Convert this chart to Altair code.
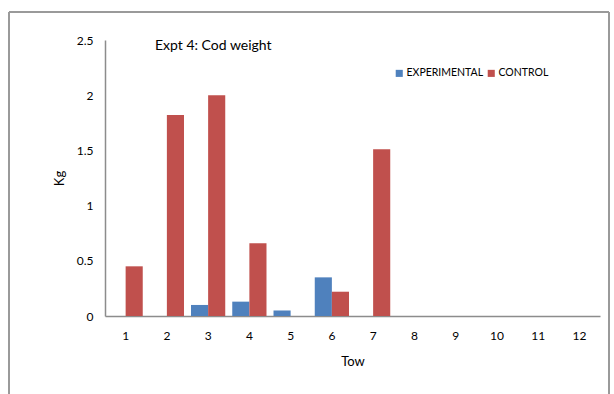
import altair as alt
import pandas as pd

tows = [1, 2, 3, 4, 5, 6, 7, 8, 9, 10, 11, 12]
experimental = [0, 0, 0.10, 0.13, 0.05, 0.35, 0, 0, 0, 0, 0, 0]
control = [0.45, 1.82, 2.0, 0.66, 0, 0.22, 1.51, 0, 0, 0, 0, 0]
series = ["EXPERIMENTAL", "CONTROL"]
colors = ["#4F81BD", "#C0504D"]
y_ticks = [0, 0.5, 1, 1.5, 2, 2.5]
chart_title = ["Expt 4: Cod weight"]

rows = []
for i, t in enumerate(tows):
    rows.append({"Tow": t, "Series": series[0], "Kg": experimental[i]})
    rows.append({"Tow": t, "Series": series[1], "Kg": control[i]})
df = pd.DataFrame(rows)
one = pd.DataFrame({"label": chart_title})

FONT = "Lato"

bars = alt.Chart(df).mark_bar().encode(
    x=alt.X("Tow:O", title="Tow",
            scale=alt.Scale(paddingInner=0.17, paddingOuter=0.085),
            axis=alt.Axis(labelAngle=0, ticks=False, labelPadding=14,
                          titlePadding=14, domainColor="#8c8c8c", domainWidth=1.5)),
    xOffset=alt.XOffset("Series:N", sort=series),
    y=alt.Y("Kg:Q", title="Kg",
            scale=alt.Scale(domain=[0, 2.5]),
            axis=alt.Axis(values=y_ticks, format="~g", grid=False, ticks=False,
                          labelPadding=12, titlePadding=10,
                          domainColor="#8c8c8c", domainWidth=1.5)),
    color=alt.Color("Series:N", sort=series,
                    scale=alt.Scale(domain=series, range=colors),
                    legend=alt.Legend(title=None, orient="none", direction="horizontal",
                                      legendX=289, legendY=28, symbolType="square",
                                      symbolSize=50, columnPadding=2, labelOffset=2,
                                      labelFontSize=10.5, labelFont=FONT,
                                      symbolStrokeWidth=0)),
)

title = alt.Chart(one).mark_text(align="left", baseline="middle",
                                 fontSize=14, font=FONT, color="#000000").encode(
    text="label:N", x=alt.value(50), y=alt.value(6))

frame_color = "#9a9a9a"
top_line = alt.Chart(one).mark_rule(color=frame_color, strokeWidth=2, clip=False).encode(
    x=alt.value(-96), x2=alt.value(504), y=alt.value(-28), y2=alt.value(-28))
left_line = alt.Chart(one).mark_rule(color=frame_color, strokeWidth=2, clip=False).encode(
    x=alt.value(-96), x2=alt.value(-96), y=alt.value(-28), y2=alt.value(360))
right_line = alt.Chart(one).mark_rule(color=frame_color, strokeWidth=2, clip=False).encode(
    x=alt.value(504), x2=alt.value(504), y=alt.value(-28), y2=alt.value(360))

chart = alt.layer(bars, title, top_line, left_line, right_line).properties(
    width=495, height=276,
    autosize=alt.AutoSizeParams(type="none"),
    padding={"left": 105, "top": 40, "right": 14, "bottom": 78},
).configure_view(stroke=None).configure_axis(
    labelFont=FONT, titleFont=FONT, labelFontSize=12, titleFontSize=13,
    titleFontWeight="normal", labelColor="#000000", titleColor="#000000"
)

chart.save("out.html", embed_options={"renderer": "svg", "actions": False})
